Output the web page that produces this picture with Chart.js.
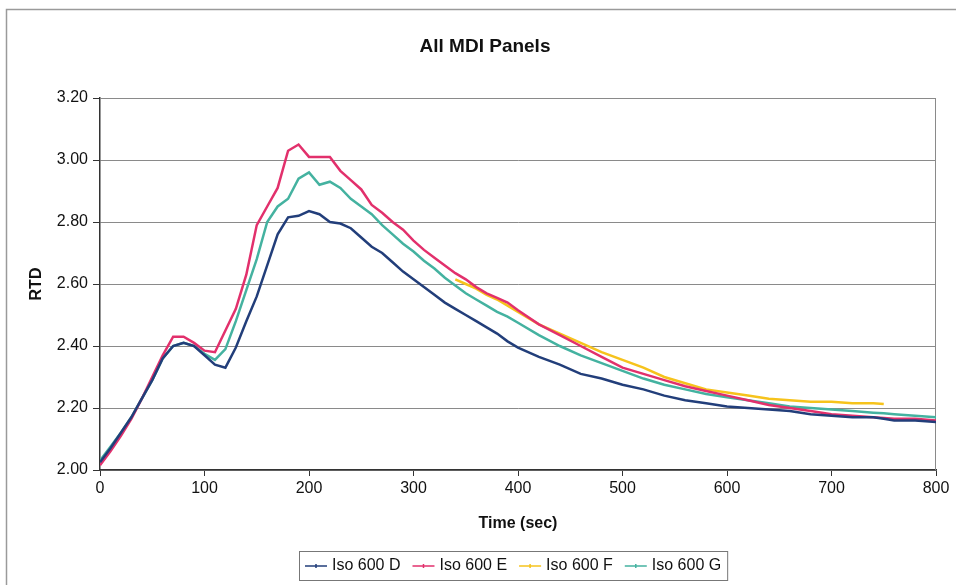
<!DOCTYPE html>
<html>
<head>
<meta charset="utf-8">
<script src="https://cdn.jsdelivr.net/npm/chart.js@4/dist/chart.umd.min.js"></script>
<style>
  html, body { margin: 0; padding: 0; background: #ffffff; }
  #wrap { width: 956px; height: 585px; }
</style>
</head>
<body>
<div id="wrap"><canvas id="c" width="956" height="585"></canvas></div>
<script>
// Sample times (s) shared by all four panels
const seconds = [0,10,20,30,40,50,60,70,80,90,100,110,120,130,140,150,160,170,180,190,
  200,210,220,230,240,250,260,270,280,290,300,310,320,330,340,350,360,370,380,390,
  400,420,440,460,480,500,520,540,560,580,600,620,640,660,680,700,720,740,750,760,780,800];

// RTD readings per panel (null = no reading at that time)
const iso600D = [2.025,2.070,2.120,2.170,2.230,2.290,2.360,2.400,2.410,2.400,2.370,2.340,2.330,2.395,2.480,2.560,2.660,2.760,2.815,2.820,
  2.835,2.825,2.800,2.795,2.780,2.750,2.720,2.700,2.670,2.640,2.615,2.590,2.565,2.540,2.520,2.500,2.480,2.460,2.440,2.415,
  2.395,2.365,2.340,2.310,2.295,2.275,2.260,2.240,2.225,2.215,2.205,2.200,2.195,2.190,2.180,2.175,2.170,2.170,2.165,2.160,2.160,2.155];
const iso600E = [2.015,2.060,2.110,2.165,2.230,2.300,2.370,2.430,2.430,2.410,2.385,2.380,2.450,2.520,2.630,2.790,2.850,2.910,3.030,3.050,
  3.010,3.010,3.010,2.965,2.935,2.905,2.855,2.830,2.800,2.775,2.740,2.710,2.685,2.660,2.635,2.615,2.590,2.570,2.555,2.540,
  2.515,2.470,2.435,2.400,2.365,2.330,2.310,2.290,2.270,2.255,2.240,2.225,2.210,2.200,2.190,2.180,2.175,2.170,2.168,2.165,2.165,2.160];
const iso600F = [null,null,null,null,null,null,null,null,null,null,null,null,null,null,null,null,null,null,null,null,
  null,null,null,null,null,null,null,null,null,null,null,null,null,null,2.615,2.600,2.585,2.565,2.550,2.530,
  2.510,2.470,2.440,2.410,2.380,2.355,2.330,2.300,2.280,2.260,2.250,2.240,2.230,2.225,2.220,2.220,2.215,2.215,2.213,null,null,null];
const iso600G = [2.030,2.075,2.120,2.170,2.230,2.290,2.360,2.400,2.410,2.400,2.375,2.355,2.390,2.480,2.580,2.680,2.800,2.850,2.875,2.940,
  2.960,2.920,2.930,2.910,2.875,2.850,2.825,2.790,2.760,2.730,2.705,2.675,2.650,2.620,2.595,2.570,2.550,2.530,2.510,2.495,
  2.475,2.435,2.400,2.370,2.345,2.320,2.295,2.275,2.260,2.245,2.235,2.225,2.215,2.205,2.200,2.195,2.190,2.185,2.183,2.180,2.175,2.170];

const seriesNames = ['Iso 600 D', 'Iso 600 E', 'Iso 600 F', 'Iso 600 G'];
const seriesColors = ['#223e7a', '#e2306c', '#f6c31c', '#44b2a0'];
const seriesValues = [iso600D, iso600E, iso600F, iso600G];

const yTicks = [2.0, 2.2, 2.4, 2.6, 2.8, 3.0, 3.2];

const FONT = '"Liberation Sans", Arial, Helvetica, sans-serif';

function toPoints(values) {
  return seconds.map((t, i) => ({ x: t, y: values[i] }));
}

// Frame, chart title, plot border and legend box
const decor = {
  id: 'decor',
  beforeDraw(chart) {
    const ctx = chart.ctx;
    ctx.save();
    ctx.fillStyle = '#ffffff';
    ctx.fillRect(0, 0, chart.width, chart.height);
    ctx.strokeStyle = '#9a9a9a';
    ctx.lineWidth = 1.5;
    ctx.beginPath();
    ctx.moveTo(6.5, chart.height);
    ctx.lineTo(6.5, 9.5);
    ctx.lineTo(chart.width, 9.5);
    ctx.stroke();
    ctx.restore();
  },
  beforeDatasetsDraw(chart) {
    const { ctx, chartArea: a } = chart;
    ctx.save();
    ctx.strokeStyle = '#8a8a8a';
    ctx.lineWidth = 1;
    ctx.beginPath();
    ctx.moveTo(a.left, a.top + 0.5);
    ctx.lineTo(a.right - 0.5, a.top + 0.5);
    ctx.lineTo(a.right - 0.5, a.bottom);
    ctx.stroke();
    ctx.restore();
  },
  afterDraw(chart) {
    const ctx = chart.ctx;
    ctx.save();
    // Title
    ctx.fillStyle = '#111111';
    ctx.font = 'bold 19px ' + FONT;
    ctx.textAlign = 'center';
    ctx.textBaseline = 'middle';
    ctx.fillText('All MDI Panels', 485, 47);

    // Legend
    ctx.font = '16px ' + FONT;
    ctx.textAlign = 'left';
    const lineLen = 22, gap = 5, spacing = 12, padX = 6;
    const items = chart.data.datasets.map(ds => ({
      label: ds.label, color: ds.borderColor, w: ctx.measureText(ds.label).width
    }));
    let total = padX * 2;
    items.forEach((it, i) => { total += lineLen + gap + it.w + (i < items.length - 1 ? spacing : 0); });
    const cx = 513, top = 551, h = 29;
    let x = Math.round(cx - total / 2);
    ctx.fillStyle = '#ffffff';
    ctx.fillRect(x, top, total, h);
    ctx.strokeStyle = '#777777';
    ctx.lineWidth = 1;
    ctx.strokeRect(x + 0.5, top + 0.5, total, h);
    let px = x + padX;
    const my = top + h / 2 + 0.5;
    items.forEach(it => {
      ctx.strokeStyle = it.color;
      ctx.lineWidth = 1.5;
      ctx.beginPath();
      ctx.moveTo(px, my);
      ctx.lineTo(px + lineLen, my);
      ctx.stroke();
      ctx.beginPath();
      ctx.moveTo(px + lineLen / 2, my - 2);
      ctx.lineTo(px + lineLen / 2, my + 2);
      ctx.stroke();
      px += lineLen + gap;
      ctx.fillStyle = '#111111';
      ctx.fillText(it.label, px, my);
      px += it.w + spacing;
    });
    ctx.restore();
  }
};

new Chart(document.getElementById('c'), {
  type: 'line',
  data: {
    datasets: seriesNames.map((name, i) => ({
      label: name,
      data: toPoints(seriesValues[i]),
      borderColor: seriesColors[i],
      backgroundColor: seriesColors[i],
      borderWidth: 2.5,
      pointRadius: 0,
      tension: 0,
      spanGaps: false
    }))
  },
  options: {
    responsive: false,
    animation: false,
    devicePixelRatio: 1,
    layout: { padding: { left: 0, right: 20, top: 98, bottom: 0 } },
    plugins: {
      legend: { display: false },
      title: { display: false },
      tooltip: { enabled: false }
    },
    scales: {
      x: {
        type: 'linear',
        min: 0,
        max: 800,
        ticks: { stepSize: 100, color: '#111111', padding: 3, font: { family: FONT, size: 16 } },
        grid: { drawOnChartArea: false, tickLength: 6, tickColor: '#333333', tickWidth: 1 },
        border: { color: '#333333', width: 1.5 },
        title: {
          display: true, text: 'Time (sec)', color: '#111111',
          font: { family: FONT, size: 16, weight: 'bold' },
          padding: { top: 0, bottom: 52 }
        },
        afterFit(scale) { scale.height = 115; }
      },
      y: {
        min: 2.0,
        max: 3.2,
        afterBuildTicks(scale) { scale.ticks = yTicks.map(v => ({ value: v })); },
        ticks: {
          color: '#111111', padding: 5, font: { family: FONT, size: 16 },
          callback: v => Number(v).toFixed(2)
        },
        grid: { color: '#8a8a8a', lineWidth: 1, tickLength: 7, tickColor: '#333333' },
        border: { color: '#333333', width: 1.5 },
        title: {
          display: true, text: 'RTD', color: '#111111',
          font: { family: FONT, size: 16, weight: 'bold' },
          padding: { top: 27, bottom: 0 }
        },
        afterFit(scale) { scale.width = 100; }
      }
    }
  },
  plugins: [decor]
});
</script>
</body>
</html>
